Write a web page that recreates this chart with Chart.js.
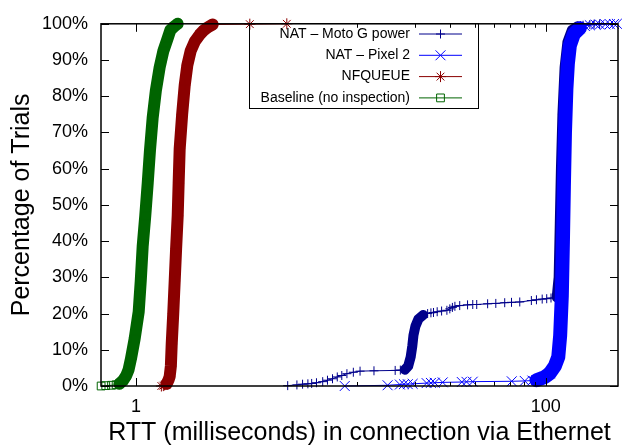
<!DOCTYPE html>
<html>
<head>
<meta charset="utf-8">
<title>RTT via Ethernet</title>
<script src="https://cdn.jsdelivr.net/npm/chart.js@4.4.1/dist/chart.umd.min.js"></script>
<style>
    html, body { margin: 0; padding: 0; background: #fff; }
    #wrap { width: 632px; height: 448px; }
</style>
</head>
<body>
<div id="wrap"><canvas id="rttChart"></canvas></div>
<script>
// RTT (ms) and cumulative percentage of trials
const motoRtt = [5.5, 6.1, 6.5, 6.9, 7.2, 7.6, 8.15, 8.6, 9.1, 9.6, 10.1, 10.7, 11.5, 12.4, 14.5, 18.4, 19.5, 20.5,
    21.3, 21.9, 22.3, 22.6, 23.1, 23.9, 25.2, 26.5, 27.5, 28.3, 29.5, 31, 32.9, 34, 35, 36, 38, 41.5, 44, 46, 52, 57, 63,
    68, 74.6, 85, 90, 96, 101, 106, 113, 115.5, 117, 118.5, 120.5, 123.5, 127.5, 134, 143, 152, 164, 172, 183];
const motoPct = [0.1, 0.3, 0.5, 0.6, 0.7, 0.9, 1.2, 1.6, 2.0, 2.5, 2.9, 3.4, 3.8, 4.1, 4.2, 4.3, 4.4, 4.5,
    5.5, 8, 11, 14, 16.5, 18.5, 19.6, 20.0, 20.2, 20.3, 20.5, 20.7, 20.9, 21.3, 21.7, 22.0, 22.2, 22.4, 22.5, 22.5, 22.7, 22.8, 23.0,
    23.1, 23.2, 23.6, 23.8, 24.0, 24.1, 24.3, 24.5, 30, 45, 60, 75, 88, 95, 98.3, 99.3, 99.6, 99.8, 99.9, 100];

const pixelRtt = [10.44, 16.9, 19.4, 20.3, 21.2, 22.4, 26.2, 27.5, 28.7, 31.4, 38.9, 41, 44, 68.2, 78.9, 86,
    90, 99, 104.6, 110.7, 115, 117.5, 119.7, 121.2, 122.5, 124, 126, 128.1, 131, 137, 146.6,
    155, 164, 175, 183.4, 195, 205.3, 215, 222.2];
const pixelPct = [0, 0.2, 0.4, 0.5, 0.5, 0.6, 0.8, 0.85, 0.9, 1.0, 1.1, 1.15, 1.2, 1.3, 1.4, 1.5,
    1.6, 2.5, 3.5, 5.5, 8, 14, 25, 40, 55, 70, 82, 89, 94, 97.2, 98.8,
    99.4, 99.6, 99.75, 99.8, 99.85, 99.9, 99.95, 100];

const nfqRtt = [1.33, 1.36, 1.38, 1.412, 1.44, 1.46, 1.48, 1.494, 1.52, 1.545, 1.57, 1.598, 1.615, 1.634, 1.68,
    1.729, 1.78, 1.849, 1.94, 2.046, 2.14, 2.239, 2.368, 3.593, 5.445];
const nfqPct = [0, 0.1, 0.3, 0.6, 1.6, 2.6, 5.5, 11.6, 20, 29, 38, 47, 56, 65.5, 75,
    83, 88.5, 92.5, 95.2, 97, 98.2, 99.0, 99.8, 99.9, 100];

const baseRtt = [0.676, 0.712, 0.76, 0.80, 0.83, 0.865, 0.895, 0.92, 0.945, 0.985, 1.031, 1.055, 1.078, 1.11,
    1.141, 1.17, 1.206, 1.25, 1.305, 1.36, 1.428, 1.47, 1.53, 1.598];
const basePct = [0, 0.1, 0.2, 0.35, 0.6, 1.5, 2.8, 4.5, 7.5, 13, 20.5, 29, 38.5, 47,
    56, 65, 74, 81.5, 88, 92.5, 96, 98.2, 99.2, 100];

// axis ticks: labelled majors, gnuplot-style linear minors between them
const xMajorTicks = [1, 100];
const xMinorTicks = [12, 23, 34, 45, 56, 67, 78, 89];
const yTicks = [0, 10, 20, 30, 40, 50, 60, 70, 80, 90, 100];

const FONT = "'Liberation Sans', Arial, Helvetica, sans-serif";
Chart.defaults.font.family = FONT;
Chart.defaults.color = '#000';

const series = [
    { label: 'NAT \u2013 Moto G power', rtt: motoRtt, pct: motoPct, color: '#00008b', marker: 'cross', radius: 4.5, band: 10 },
    { label: 'NAT \u2013 Pixel 2', rtt: pixelRtt, pct: pixelPct, color: '#0000ff', marker: 'crossRot', radius: 7, band: 14 },
    { label: 'NFQUEUE', rtt: nfqRtt, pct: nfqPct, color: '#8b0000', marker: 'star', radius: 5.5, band: 12 },
    { label: 'Baseline (no inspection)', rtt: baseRtt, pct: basePct, color: '#006400', marker: 'rect', radius: 5.5, band: 12 }
];

// dense runs of trials show up as a solid band of markers
const bandWidth = w => ctx => Math.abs(ctx.p1.parsed.y - ctx.p0.parsed.y) >= 0.75 ? w : 1;

function drawMarker(ctx, style, x, y, r) {
    const d = r * Math.SQRT1_2;
    ctx.beginPath();
    if (style === 'cross' || style === 'star') {
        ctx.moveTo(x - r, y); ctx.lineTo(x + r, y);
        ctx.moveTo(x, y - r); ctx.lineTo(x, y + r);
    }
    if (style === 'crossRot' || style === 'star') {
        ctx.moveTo(x - d, y - d); ctx.lineTo(x + d, y + d);
        ctx.moveTo(x + d, y - d); ctx.lineTo(x - d, y + d);
    }
    if (style === 'rect') ctx.rect(x - d, y - d, 2 * d, 2 * d);
    ctx.stroke();
}

// border with inward, mirrored ticks
const frameTicks = {
    id: 'frameTicks',
    afterDatasetsDraw(chart) {
        const { ctx, chartArea: a, scales: { x, y } } = chart;
        ctx.save();
        ctx.strokeStyle = '#000';
        ctx.lineWidth = 1;
        ctx.beginPath();
        yTicks.forEach(v => {
            const py = Math.round(y.getPixelForValue(v)) + 0.5;
            ctx.moveTo(a.left, py); ctx.lineTo(a.left + 8, py);
            ctx.moveTo(a.right, py); ctx.lineTo(a.right - 8, py);
        });
        xMajorTicks.concat(xMinorTicks).forEach(v => {
            const len = xMajorTicks.includes(v) ? 8 : 4;
            const px = Math.round(x.getPixelForValue(v)) + 0.5;
            ctx.moveTo(px, a.bottom); ctx.lineTo(px, a.bottom - len);
            ctx.moveTo(px, a.top); ctx.lineTo(px, a.top + len);
        });
        ctx.stroke();
        ctx.lineWidth = 1.5;
        ctx.strokeRect(a.left, a.top, a.right - a.left, a.bottom - a.top);
        ctx.restore();
    }
};

// gnuplot-style key: right-aligned text, sample line with marker
const gnuKey = {
    id: 'gnuKey',
    afterDraw(chart) {
        const { ctx } = chart;
        const box = { left: 249, top: 23, right: 478, bottom: 108 };
        const textRight = 410, lineFrom = 419, lineTo = 462, rowTop = 34, rowStep = 21.3;
        ctx.save();
        ctx.strokeStyle = '#000';
        ctx.lineWidth = 1;
        ctx.strokeRect(box.left + 0.5, box.top + 0.5, box.right - box.left, box.bottom - box.top);
        ctx.font = '14px ' + FONT;
        ctx.textAlign = 'right';
        ctx.textBaseline = 'middle';
        chart.data.datasets.forEach((ds, i) => {
            const s = series[i];
            const ry = rowTop + i * rowStep;
            ctx.fillStyle = '#000';
            ctx.fillText(ds.label, textRight, ry);
            ctx.strokeStyle = s.color;
            ctx.lineWidth = 1;
            ctx.beginPath();
            ctx.moveTo(lineFrom, ry); ctx.lineTo(lineTo, ry);
            ctx.stroke();
            drawMarker(ctx, s.marker, (lineFrom + lineTo) / 2, ry, s.radius);
        });
        ctx.restore();
    }
};

new Chart(document.getElementById('rttChart'), {
    type: 'line',
    data: {
        datasets: series.map((s, i) => ({
            label: s.label,
            data: s.rtt.map((v, j) => ({ x: v, y: s.pct[j] })),
            borderColor: s.color,
            backgroundColor: s.color,
            borderWidth: 1,
            borderCapStyle: 'round',
            borderJoinStyle: 'round',
            segment: { borderWidth: bandWidth(s.band) },
            pointStyle: s.marker,
            pointRadius: s.radius,
            pointHoverRadius: s.radius,
            pointBorderWidth: 1,
            pointBorderColor: s.color,
            pointBackgroundColor: 'rgba(0,0,0,0)',
            tension: 0,
            fill: false,
            clip: false,
            order: series.length - i
        }))
    },
    options: {
        responsive: true,
        maintainAspectRatio: false,
        animation: false,
        events: [],
        layout: { padding: { left: 0, right: 14, top: 15, bottom: 0 } },
        plugins: { legend: { display: false }, tooltip: { enabled: false } },
        scales: {
            x: {
                type: 'logarithmic',
                min: 0.675,
                max: 225,
                afterFit: s => { s.height = 62; },
                afterBuildTicks: s => { s.ticks = xMajorTicks.map(v => ({ value: v })); },
                grid: { display: false, drawTicks: false },
                border: { display: false },
                ticks: {
                    autoSkip: false,
                    maxRotation: 0,
                    padding: 10,
                    font: { size: 18 },
                    callback: v => String(v)
                },
                title: {
                    display: true,
                    text: 'RTT (milliseconds) in connection via Ethernet',
                    font: { size: 25 },
                    padding: { top: 0, bottom: 0 }
                }
            },
            y: {
                min: 0,
                max: 100,
                afterFit: s => { s.width = 101; },
                afterBuildTicks: s => { s.ticks = yTicks.map(v => ({ value: v })); },
                grid: { display: false, drawTicks: false },
                border: { display: false },
                ticks: {
                    padding: 13,
                    font: { size: 18 },
                    callback: v => v + '%'
                },
                title: {
                    display: true,
                    text: 'Percentage of Trials',
                    font: { size: 25 },
                    padding: { top: 7, bottom: 0 }
                }
            }
        }
    },
    plugins: [frameTicks, gnuKey]
});
</script>
</body>
</html>
